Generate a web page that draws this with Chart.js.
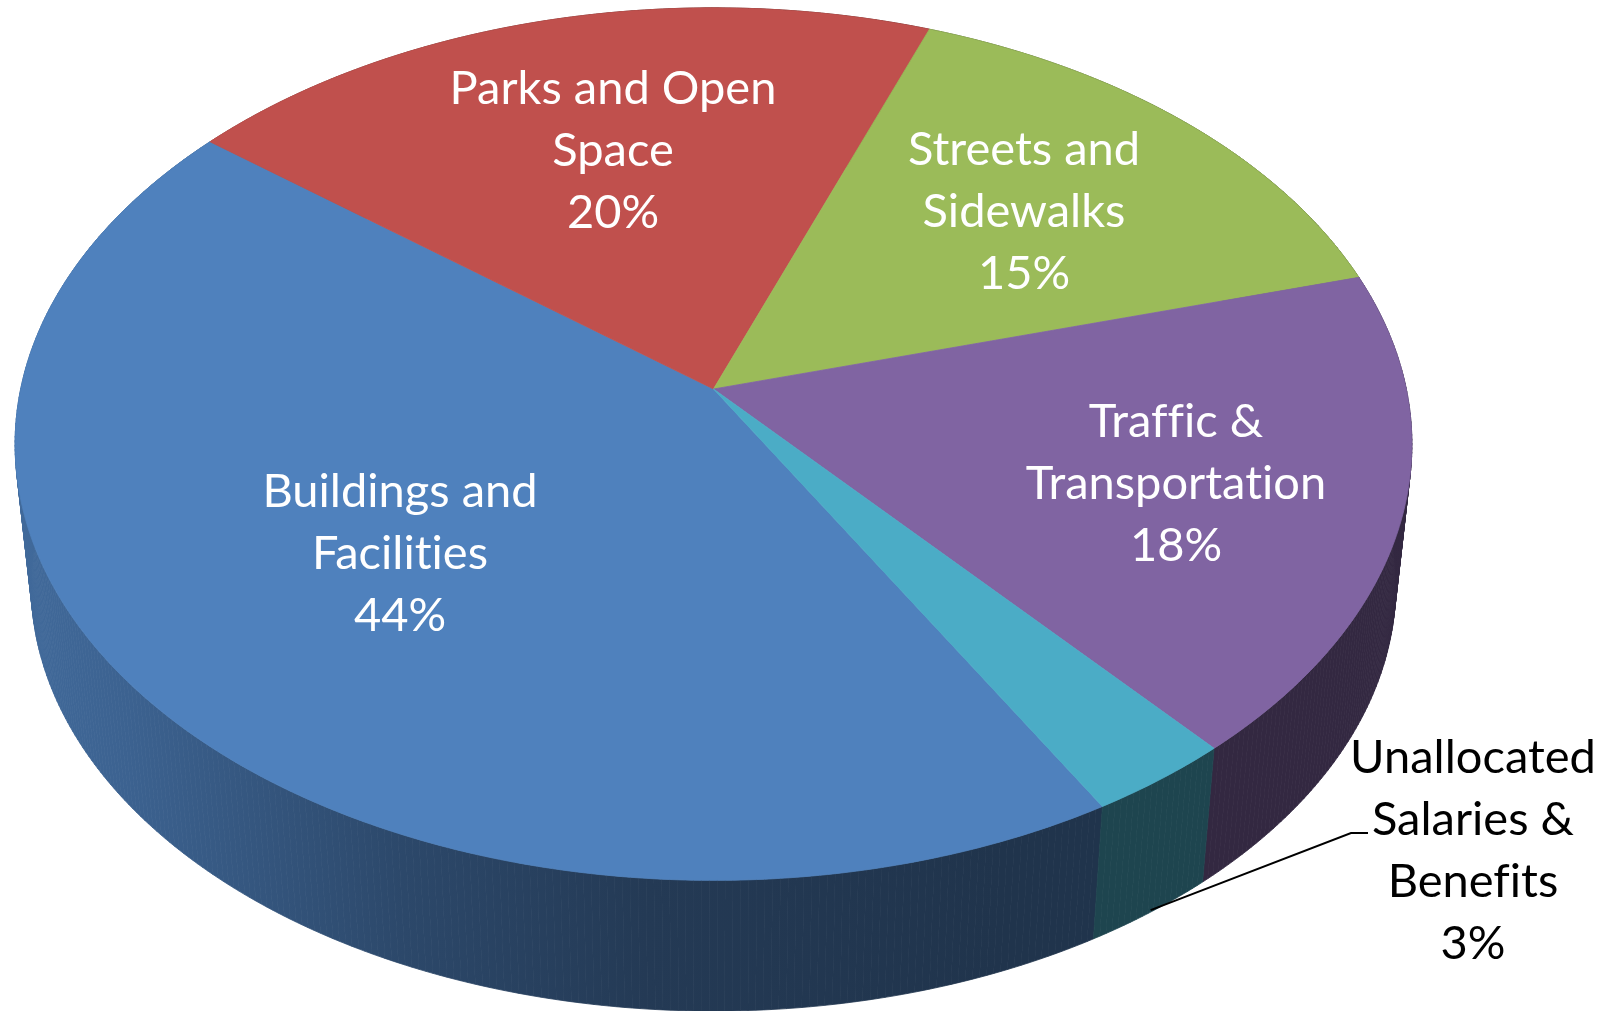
<!DOCTYPE html>
<html>
<head>
<meta charset="utf-8">
<title>Capital spending by category</title>
<style>
  html, body { margin: 0; padding: 0; background: #fff; overflow: hidden; }
  canvas { display: block; }
</style>
<script src="https://cdn.jsdelivr.net/npm/chart.js@4"></script>
</head>
<body>
<canvas id="pie" width="1615" height="1011"></canvas>
<script>
// Spending categories and their shares, in percent.
const categories = [
  ['Buildings and', 'Facilities'],
  ['Parks and Open', 'Space'],
  ['Streets and', 'Sidewalks'],
  ['Traffic &', 'Transportation'],
  ['Unallocated', 'Salaries &', 'Benefits']
];
const shares = [44, 20, 15, 18, 3];
const sliceColors = ['#4F81BD', '#C0504D', '#9BBB59', '#8064A2', '#4BACC6'];
const labelColors = ['#FFFFFF', '#FFFFFF', '#FFFFFF', '#FFFFFF', '#000000'];
const labelCenters = [[400, 492], [613, 89], [1024, 150], [1176, 422], [1473, 758]];

// Tilted-disc view: a circle seen in perspective, near edge at the bottom.
const VIEW = {
  foreshorten: 0.1263,
  widthRatio: 1.781,
  heightRatio: 1.1036,
  lowerScaleX: 0.977,
  lowerScaleY: 0.977,
  lowerDrop: 142
};

function rimPoint(arc, angle, lower) {
  const ux = Math.cos(angle);
  const uy = Math.sin(angle);
  const d = 1 - VIEW.foreshorten * uy;
  const sx = lower ? VIEW.lowerScaleX : 1;
  const sy = lower ? VIEW.lowerScaleY : 1;
  return {
    x: arc.x + arc.outerRadius * VIEW.widthRatio * sx * ux / d,
    y: arc.y + (lower ? VIEW.lowerDrop : 0) + arc.outerRadius * VIEW.heightRatio * sy * uy / d
  };
}

function rimAngles(arc) {
  const steps = Math.max(2, Math.ceil((arc.endAngle - arc.startAngle) / 0.01));
  const list = [];
  for (let i = 0; i <= steps; i++) {
    list.push(arc.startAngle + (arc.endAngle - arc.startAngle) * i / steps);
  }
  return list;
}

// Each slice is filled through the view above instead of as a flat circle.
Chart.ArcElement.prototype.draw = function (ctx) {
  const color = this.options.backgroundColor;
  ctx.save();
  ctx.beginPath();
  ctx.moveTo(this.x, this.y);
  rimAngles(this).forEach(a => {
    const p = rimPoint(this, a, false);
    ctx.lineTo(p.x, p.y);
  });
  ctx.closePath();
  ctx.fillStyle = color;
  ctx.strokeStyle = color;
  ctx.lineWidth = 0.8;
  ctx.lineJoin = 'round';
  ctx.fill();
  ctx.stroke();
  ctx.restore();
};

// Shading of the side wall along the horizontal axis.
const wallShade = [[0.01, 0.82], [0.08, 0.76], [0.25, 0.56], [0.40, 0.45], [0.62, 0.40], [1, 0.40]];

function shadedColor(hex, factor) {
  const n = parseInt(hex.slice(1), 16);
  const c = [(n >> 16) & 255, (n >> 8) & 255, n & 255].map(v => Math.round(v * factor));
  return `rgb(${c[0]},${c[1]},${c[2]})`;
}

const sideWall = {
  id: 'sideWall',
  beforeDatasetsDraw(chart) {
    const ctx = chart.ctx;
    chart.getDatasetMeta(0).data.forEach((arc, i) => {
      const grad = ctx.createLinearGradient(0, 0, chart.width, 0);
      wallShade.forEach(([at, f]) => grad.addColorStop(at, shadedColor(sliceColors[i], f)));
      const angles = rimAngles(arc);
      ctx.save();
      ctx.fillStyle = grad;
      ctx.strokeStyle = grad;
      ctx.lineWidth = 0.8;
      // One strip per rim step, so the outline follows the tangent between both rims.
      for (let k = 0; k < angles.length - 1; k++) {
        const a = rimPoint(arc, angles[k], false);
        const b = rimPoint(arc, angles[k + 1], false);
        const c = rimPoint(arc, angles[k + 1], true);
        const d = rimPoint(arc, angles[k], true);
        ctx.beginPath();
        ctx.moveTo(a.x, a.y);
        ctx.lineTo(b.x, b.y);
        ctx.lineTo(c.x, c.y);
        ctx.lineTo(d.x, d.y);
        ctx.closePath();
        ctx.fill();
        ctx.stroke();
      }
      ctx.restore();
    });
  }
};

const sliceLabels = {
  id: 'sliceLabels',
  afterDatasetsDraw(chart) {
    const ctx = chart.ctx;
    const arcs = chart.getDatasetMeta(0).data;

    // Leader from the smallest slice's outer wall to its label.
    const small = arcs[arcs.length - 1];
    const anchor = rimPoint(small, (small.startAngle + small.endAngle) / 2, true);
    ctx.save();
    ctx.beginPath();
    ctx.moveTo(anchor.x, anchor.y - 2);
    ctx.lineTo(1351, 833);
    ctx.lineTo(1368, 833);
    ctx.strokeStyle = '#000';
    ctx.lineWidth = 2;
    ctx.stroke();

    ctx.textAlign = 'center';
    ctx.textBaseline = 'middle';
    ctx.font = '47px Lato';
    ctx.letterSpacing = '0.01px';
    categories.forEach((lines, i) => {
      const [cx, cy] = labelCenters[i];
      ctx.fillStyle = labelColors[i];
      [...lines, shares[i] + '%'].forEach((line, k) => ctx.fillText(line, cx, cy + k * 62));
    });
    ctx.restore();
  }
};

new Chart(document.getElementById('pie'), {
  type: 'pie',
  data: {
    labels: categories.map(lines => lines.join(' ')),
    datasets: [{ data: shares, backgroundColor: sliceColors, borderWidth: 0 }]
  },
  options: {
    responsive: false,
    animation: false,
    rotation: 150,
    layout: { padding: { left: 0, right: 188, top: 0, bottom: 233 } },
    plugins: { legend: { display: false }, tooltip: { enabled: false } }
  },
  plugins: [sideWall, sliceLabels]
});
</script>
</body>
</html>
